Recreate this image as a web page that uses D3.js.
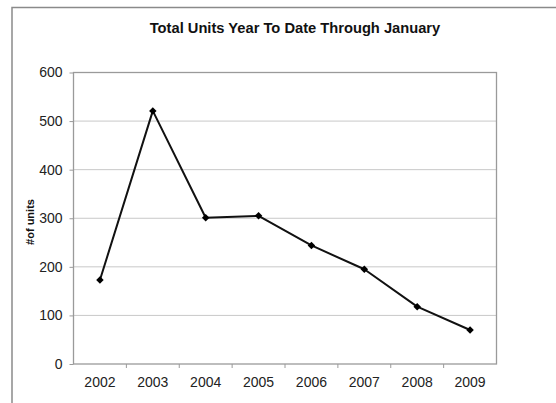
<!DOCTYPE html>
<html><head><meta charset="utf-8">
<script src="https://cdn.jsdelivr.net/npm/d3@7"></script>
<style>body{margin:0;background:#fff}svg{display:block}</style>
</head><body>
<svg id="c" width="556" height="403"></svg>
<script>
const years = ["2002","2003","2004","2005","2006","2007","2008","2009"];
const units = [173, 521, 301, 305, 244, 195, 118, 70];
const yTicks = [0, 100, 200, 300, 400, 500, 600];
const title = "Total Units Year To Date Through January";
const yTitle = "#of units";

const svg = d3.select("#c");
const font = "Liberation Sans, Arial, Helvetica, sans-serif";
const m = {l:73.5, t:72.5, r:496.5, b:364};

// outer frame
svg.append("rect").attr("x",12).attr("y",7.5).attr("width",600).attr("height",500)
  .attr("fill","none").attr("stroke","#8a8a8a").attr("stroke-width",1.5);

const x = d3.scaleBand().domain(years).range([m.l, m.r]);
const y = d3.scaleLinear().domain([0,600]).range([m.b, m.t]);

// gridlines
svg.append("g").selectAll("line").data(yTicks.slice(1,-1)).join("line")
  .attr("x1",m.l).attr("x2",m.r).attr("y1",d=>y(d)).attr("y2",d=>y(d))
  .attr("stroke","#c8c8c8").attr("stroke-width",1);

// plot border
svg.append("rect").attr("x",m.l).attr("y",m.t).attr("width",m.r-m.l).attr("height",m.b-m.t)
  .attr("fill","none").attr("stroke","#9a9a9a").attr("stroke-width",1.3);

// y axis
const ya = svg.append("g").attr("transform",`translate(${m.l},0)`)
  .call(d3.axisLeft(y).tickValues(yTicks).tickSize(4).tickPadding(7));
ya.select(".domain").remove();
ya.selectAll("line").attr("stroke","#9a9a9a");
ya.selectAll("text").attr("font-family",font).attr("font-size",14).attr("fill","#222");

// x axis
const xa = svg.append("g").attr("transform",`translate(0,${m.b})`)
  .call(d3.axisBottom(x).tickSize(0).tickPadding(13));
xa.select(".domain").remove();
xa.selectAll("text").attr("font-family",font).attr("font-size",14).attr("fill","#222");
svg.append("g").selectAll("line").data(years.slice(1)).join("line")
  .attr("x1",d=>x(d)).attr("x2",d=>x(d)).attr("y1",m.b).attr("y2",m.b+4)
  .attr("stroke","#9a9a9a").attr("stroke-width",1);

// line
const line = d3.line().x((d,i)=>x(years[i])+x.bandwidth()/2).y(d=>y(d));
svg.append("path").datum(units).attr("d",line).attr("fill","none")
  .attr("stroke","#111").attr("stroke-width",2).attr("stroke-linejoin","round");

// markers (diamonds = rotated squares)
svg.append("g").selectAll("path").data(units).join("path")
  .attr("transform",(d,i)=>`translate(${x(years[i])+x.bandwidth()/2},${y(d)}) rotate(45)`)
  .attr("d",d3.symbol(d3.symbolSquare, 28)())
  .attr("fill","#000");

// title
svg.append("text").attr("x",295).attr("y",33).attr("text-anchor","middle")
  .attr("font-family",font).attr("font-weight","bold").attr("font-size",14.7).attr("fill","#111")
  .text(title);

// y title
svg.append("text").attr("transform","translate(34,222) rotate(-90)").attr("text-anchor","middle")
  .attr("font-family",font).attr("font-weight","bold").attr("font-size",11).attr("fill","#111")
  .text(yTitle);
</script>
</body></html>
